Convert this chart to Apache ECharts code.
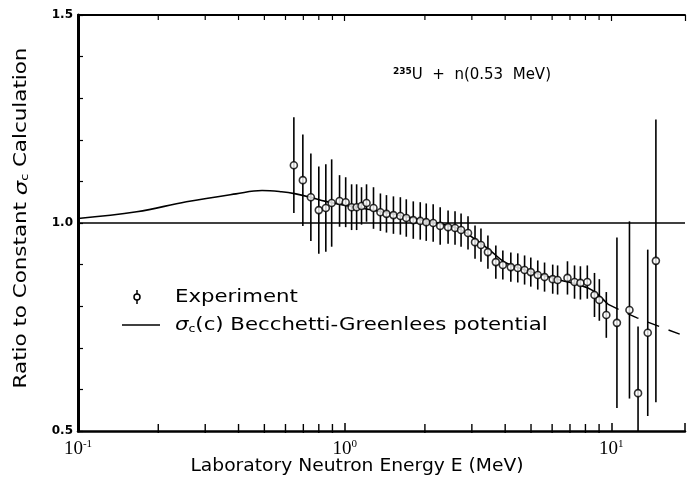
<!DOCTYPE html>
<html><head><meta charset="utf-8">
<script src="https://cdn.jsdelivr.net/npm/echarts@6/dist/echarts.min.js"></script>
<style>html,body{margin:0;padding:0;background:#fff}#c{width:688px;height:482px}</style>
</head><body><div id="c"></div>
<script>
// Experimental points: energy (MeV), ratio, half error
const expE = [0.645,0.697,0.747,0.80,0.85,0.894,0.957,1.009,1.062,1.109,1.157,1.208,1.283,1.362,1.435,1.524,1.618,1.703,1.809,1.921,2.023,2.148,2.282,2.443,2.594,2.733,2.902,3.083,3.245,3.446,3.69,3.92,4.20,4.46,4.73,4.99,5.30,5.62,6.03,6.29,6.85,7.28,7.66,8.13,8.65,9.02,9.58,10.5,11.7,12.6,13.7,14.7];
const expV = [1.139,1.103,1.062,1.031,1.036,1.048,1.053,1.05,1.038,1.038,1.041,1.048,1.036,1.026,1.022,1.019,1.017,1.012,1.007,1.005,1.002,1.0,0.993,0.99,0.988,0.983,0.976,0.954,0.947,0.93,0.906,0.899,0.894,0.892,0.887,0.882,0.875,0.87,0.865,0.863,0.868,0.858,0.856,0.858,0.827,0.815,0.779,0.76,0.791,0.591,0.736,0.909];
const expErr = [0.115,0.11,0.105,0.105,0.105,0.105,0.062,0.06,0.055,0.055,0.045,0.045,0.05,0.045,0.045,0.045,0.045,0.045,0.045,0.045,0.045,0.045,0.045,0.04,0.04,0.04,0.04,0.04,0.04,0.04,0.04,0.035,0.035,0.035,0.035,0.035,0.035,0.035,0.035,0.035,0.04,0.04,0.04,0.04,0.053,0.05,0.055,0.205,0.213,0.16,0.2,0.34];
// Becchetti-Greenlees calculation (solid part, then dashed extension)
const curveE = [0.1,0.166,0.255,0.391,0.49,0.58,0.656,0.734,0.85,1.0,1.3,1.7,2.2,2.7,3.1,3.5,4.0,4.6,5.5,6.5,7.5,8.5,9.7];
const curveV = [1.011,1.027,1.051,1.07,1.078,1.075,1.07,1.063,1.052,1.043,1.03,1.015,1.0,0.985,0.96,0.935,0.905,0.89,0.875,0.862,0.852,0.838,0.805];
const dashE = [9.7,12.5,18.9];
const dashV = [0.805,0.772,0.728];
const refLevel = 1.0;
const xMinorTicks = [0.2,0.3,0.4,0.5,0.6,0.7,0.8,0.9,2,3,4,5,6,7,8,9];
const xMin = 0.1, xMax = 18.9, yMin = 0.5, yMax = 1.5;

const chart = echarts.init(document.getElementById('c'), null, {renderer:'canvas'});
const font = 'DejaVu Sans';
const option = {
  backgroundColor:'#fff',
  animation:false,
  grid:{left:78,right:0,top:15,bottom:51},
  xAxis:[{
    type:'log', min:xMin, max:xMax, logBase:10, position:'bottom',
    axisLine:{show:true,lineStyle:{color:'#000',width:2.5}},
    axisTick:{show:true,inside:true,length:8,lineStyle:{color:'#000',width:1.5}},
    splitLine:{show:false},
    axisLabel:{margin:8,color:'#000',formatter:function(v){
      const l=Math.log10(v), r=Math.round(l);
      if(Math.abs(l-r)>1e-6) return '';
      return '{b|10}{s|'+r+'}';
    },rich:{b:{fontFamily:'Liberation Serif',fontSize:19,color:'#000'},s:{fontFamily:'Liberation Serif',fontSize:11,color:'#000',padding:[0,0,10,0]}}}
  },{
    type:'log', min:xMin, max:xMax, logBase:10, position:'top',
    axisLine:{show:true,lineStyle:{color:'#000',width:2}},
    axisTick:{show:true,inside:true,length:6,lineStyle:{color:'#000',width:1.2}},
    axisLabel:{show:false}, splitLine:{show:false}
  }],
  yAxis:[{
    type:'value', min:yMin, max:yMax, interval:0.5,
    axisLine:{show:true,lineStyle:{color:'#000',width:3}},
    axisTick:{show:true,inside:true,length:5,lineStyle:{color:'#000',width:1.2}},
    minorTick:{show:true,splitNumber:5,length:5,lineStyle:{color:'#000',width:1.2}},
    splitLine:{show:false},
    axisLabel:{margin:5,color:'#000',fontFamily:font,fontSize:12,fontWeight:'bold',formatter:function(v){return v.toFixed(1);}}
  }],
  graphic:[
    {type:'text',x:22,y:218,rotation:Math.PI/2,scaleX:1.26,style:{text:'{t|Ratio to Constant }{g|σ}{c|c}{t| Calculation}',rich:{t:{fontFamily:font,fontSize:17},g:{fontFamily:font,fontSize:18,fontStyle:'italic'},c:{fontFamily:font,fontSize:10,padding:[7,0,0,0]}},fill:'#000',align:'center',verticalAlign:'middle'}},
    {type:'text',x:357,y:467,scaleX:1.1,style:{text:'Laboratory Neutron Energy E (MeV)',fontFamily:font,fontSize:17,fill:'#000',align:'center',verticalAlign:'middle'}},
    {type:'text',x:393,y:75,style:{text:'{s|235}{t|U  +  n(0.53  MeV)}',rich:{s:{fontFamily:font,fontSize:9,fontWeight:'bold',padding:[0,0,7,0]},t:{fontFamily:font,fontSize:15}},fill:'#000',verticalAlign:'middle'}},
    {type:'line',shape:{x1:137,y1:290,x2:137,y2:304},style:{stroke:'#000',lineWidth:1.5}},
    {type:'circle',shape:{cx:137,cy:297,r:3},style:{fill:'#fff',stroke:'#000',lineWidth:1.5}},
    {type:'text',x:175,y:298,scaleX:1.25,style:{text:'Experiment',fontFamily:font,fontSize:17,fill:'#000',verticalAlign:'middle'}},
    {type:'line',shape:{x1:122,y1:325,x2:160,y2:325},style:{stroke:'#000',lineWidth:1.5}},
    {type:'text',x:175,y:326,scaleX:1.25,style:{text:'{g|σ}{c|c}{t|(c) Becchetti-Greenlees potential}',rich:{g:{fontFamily:font,fontSize:17,fontStyle:'italic'},c:{fontFamily:font,fontSize:10,padding:[6,0,0,0]},t:{fontFamily:font,fontSize:17}},fill:'#000',verticalAlign:'middle'}}
  ],
  series:[
    {type:'line',name:'calc',data:curveE.map((e,i)=>[e,curveV[i]]),smooth:0.4,showSymbol:false,
     lineStyle:{color:'#000',width:1.6},z:3,
     markLine:{silent:true,symbol:'none',label:{show:false},lineStyle:{color:'#000',width:1.5,type:'solid'},data:[{yAxis:refLevel}]}},
    {type:'line',name:'calc-ext',data:dashE.map((e,i)=>[e,dashV[i]]),smooth:0.3,showSymbol:false,
     lineStyle:{color:'#000',width:1.4,type:[12,10]},z:3},
    {type:'custom',name:'err',data:expE.map((e,i)=>[e,Math.max(expV[i]-expErr[i],yMin),Math.min(expV[i]+expErr[i],yMax)]),
     renderItem:function(params,api){
       const p1=api.coord([api.value(0),api.value(2)]), p2=api.coord([api.value(0),api.value(1)]);
       return {type:'line',shape:{x1:p1[0],y1:p1[1],x2:p2[0],y2:p2[1]},style:{stroke:'#000',lineWidth:1.6}};
     },z:4},
    {type:'scatter',name:'Experiment',data:expE.map((e,i)=>[e,expV[i]]),symbol:'circle',symbolSize:7,
     itemStyle:{color:'#fff',borderColor:'#000',borderWidth:1.6},z:5},
    {type:'custom',name:'minorTicks',data:xMinorTicks.map(e=>[e]),
     renderItem:function(params,api){
       const b=api.coord([api.value(0),yMin]), t=api.coord([api.value(0),yMax]);
       return {type:'group',children:[
         {type:'line',shape:{x1:b[0],y1:b[1]-7,x2:b[0],y2:b[1]+2},style:{stroke:'#000',lineWidth:1.4}},
         {type:'line',shape:{x1:t[0],y1:t[1],x2:t[0],y2:t[1]+5},style:{stroke:'#000',lineWidth:1.2}}
       ]};
     },z:2}
  ]
};
chart.setOption(option);
</script></body></html>
